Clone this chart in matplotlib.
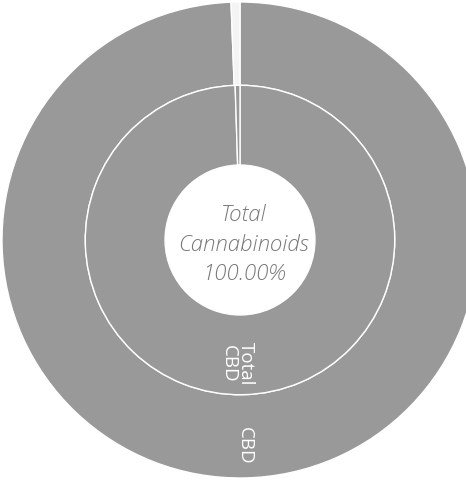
import matplotlib.pyplot as plt

# inner ring
inner_labels = ["Total\nCBD", ""]
inner_values = [99.5, 0.5]
# outer ring
outer_labels = ["CBD", ""]
outer_values = [99.4, 0.6]

center_text = "Total\nCannabinoids\n100.00%"

grey = "#999999"

fig = plt.figure(figsize=(4.66, 4.80), dpi=100)
ax = fig.add_axes([0, 0, 1, 1])

R = 1.0
r_mid = 0.65
r_hole = 0.315

w_out, _ = ax.pie(outer_values, radius=R, startangle=90, counterclock=False,
                  colors=[grey, "#f4f4f4"],
                  wedgeprops=dict(width=R - r_mid, edgecolor="white", linewidth=1.0))
w_in, _ = ax.pie(inner_values, radius=r_mid, startangle=90, counterclock=False,
                 colors=[grey, grey],
                 wedgeprops=dict(width=r_mid - r_hole, edgecolor="white", linewidth=1.0))

# labels in the rings (bottom, rotated)
ax.text(-0.01, -0.52, inner_labels[0], rotation=-90,
        ha="center", va="center", color="white", fontsize=13.5,
        family="Open Sans", linespacing=0.9)
ax.text(0.02, -0.865, outer_labels[0], rotation=-90,
        ha="center", va="center", color="white", fontsize=13.5,
        family="Open Sans")

ax.text(0.015, -0.02, center_text, ha="center", va="center", color="#777777",
        fontsize=16, style="italic", family="Open Sans", fontweight="light",
        linespacing=1.45)

ax.set_aspect("equal")
ax.set_xlim(-240 / 238, 226 / 238)
ax.set_ylim(-240 / 238, 240 / 238)
ax.axis("off")

plt.savefig("out.png", dpi=100)
